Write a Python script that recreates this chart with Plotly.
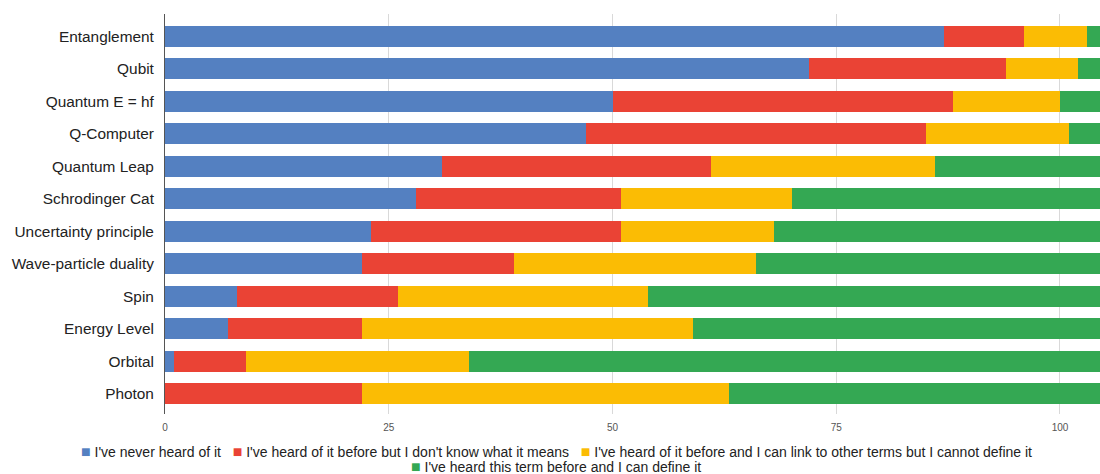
import plotly.graph_objects as go

# Survey terms, top to bottom
terms = [
    "Entanglement", "Qubit", "Quantum E = hf", "Q-Computer", "Quantum Leap",
    "Schrodinger Cat", "Uncertainty principle", "Wave-particle duality",
    "Spin", "Energy Level", "Orbital", "Photon",
]

# Number of respondents per familiarity level
never_heard = [87, 72, 50, 47, 31, 28, 23, 22, 8, 7, 1, 0]
heard_no_meaning = [9, 22, 38, 38, 30, 23, 28, 17, 18, 15, 8, 22]
can_link = [7, 8, 12, 16, 25, 19, 17, 27, 28, 37, 25, 41]
can_define = [3, 4, 6, 5, 20, 36, 38, 40, 52, 47, 72, 43]

series_names = [
    "I've never heard of it",
    "I've heard of it before but I don't know what it means",
    "I've heard of it before and I can link to other terms but I cannot define it",
    "I've heard this term before and I can define it",
]
series_values = [never_heard, heard_no_meaning, can_link, can_define]
colors = ["#5480c1", "#ea4335", "#fbbc04", "#34a853"]

x_ticks = [0, 25, 50, 75, 100]

FONT = "Liberation Sans, Arial, sans-serif"

fig = go.Figure()
for name, vals, col in zip(series_names, series_values, colors):
    fig.add_trace(go.Bar(
        y=terms, x=vals, name=name, orientation="h",
        marker=dict(color=col, line=dict(width=0)),
        showlegend=False,
    ))

fig.update_layout(
    width=1100, height=474,
    margin=dict(l=165, r=0, t=14, b=60),
    barmode="stack",
    bargap=0.354,
    plot_bgcolor="white",
    paper_bgcolor="white",
    font=dict(family=FONT, color="#222222"),
)

fig.update_xaxes(
    range=[0, 104.47],
    tickvals=x_ticks,
    ticktext=[str(t) for t in x_ticks],
    tickfont=dict(size=10, color="#555555"),
    showgrid=True, gridcolor="#d9d9d9", gridwidth=1,
    zeroline=False, showline=False,
    ticks="outside", ticklen=4, tickcolor="rgba(0,0,0,0)",
)
fig.update_yaxes(
    categoryorder="array", categoryarray=terms,
    range=[11.62, -0.68],
    tickfont=dict(size=15.4, color="#222222"),
    showline=True, linecolor="#555555", linewidth=1,
    showgrid=False, zeroline=False,
    ticks="", ticklabelstandoff=7,
)

# Centered two-row key below the chart
def key_item(color, label):
    return (f'<span style="color:{color};font-size:16px">■</span>'
            f'&nbsp;{label}')

row1 = "&nbsp;&nbsp;&nbsp;".join(
    key_item(c, n) for c, n in zip(colors[:3], series_names[:3])
)
row2 = key_item(colors[3], series_names[3])

for text, ypix in [(row1, 451), (row2, 466.5)]:
    fig.add_annotation(
        text=text, xref="paper", yref="paper",
        x=(556 - 165) / 935, y=(474 - 60 - ypix) / 400,
        xanchor="center", yanchor="middle", showarrow=False,
        borderpad=0,
        font=dict(size=14, color="#222222", family=FONT),
    )

fig.write_html("out.html")
